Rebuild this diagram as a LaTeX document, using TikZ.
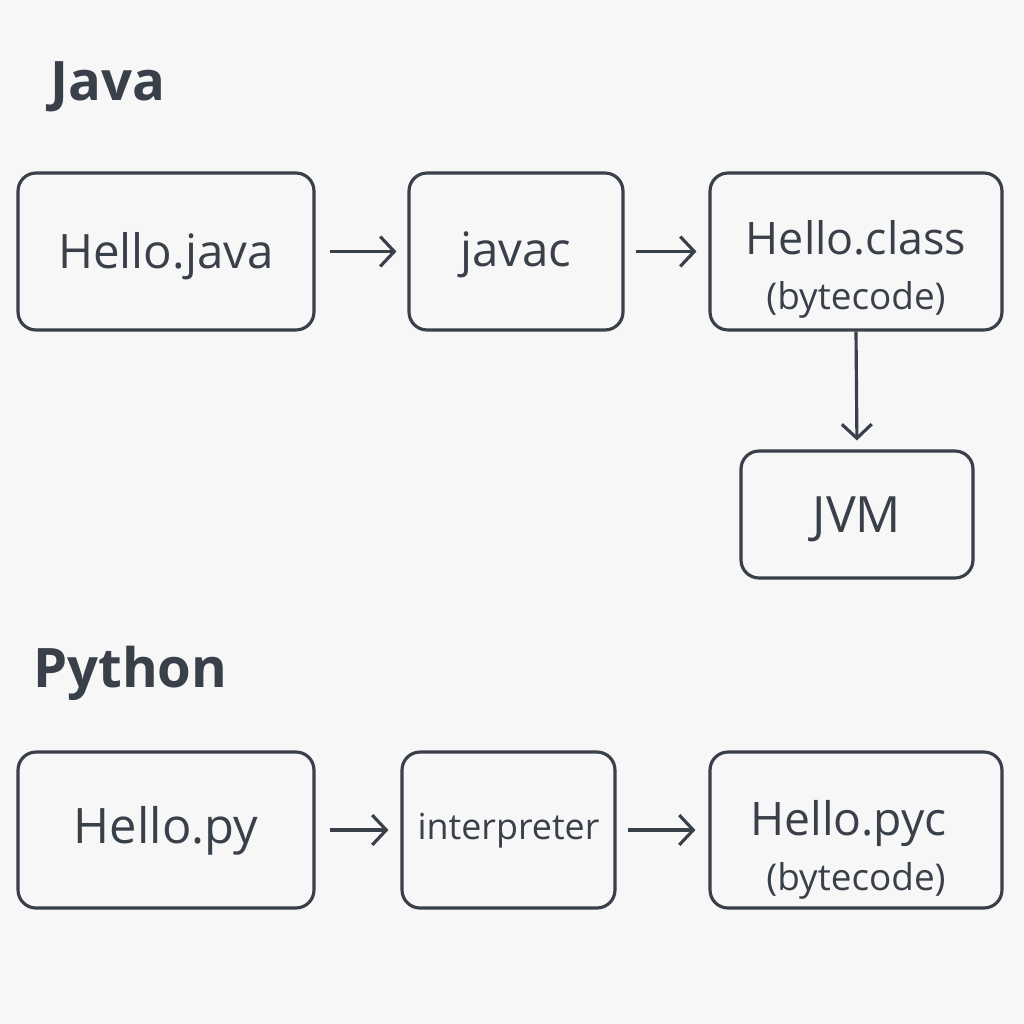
\documentclass[tikz,border=0pt]{standalone}
\usepackage{fontspec}
\setmainfont{Open Sans}
\usetikzlibrary{arrows.meta}
\definecolor{ink}{HTML}{3A4049}
\definecolor{paper}{HTML}{F7F7F7}
\tikzset{
  stage/.style={rectangle, draw=ink, line width=1.8pt, rounded corners=0.36cm, inner sep=0pt},
  stagetext/.style={text=ink, align=center, inner sep=0pt, font=\fontsize{27}{31}\selectfont},
  link/.style={draw=ink, line width=1.8pt, -{Straight Barb[length=8pt,width=17pt,line width=1.8pt]}},
  heading/.style={text=ink, anchor=base west, inner sep=0pt, font=\fontsize{31}{36}\selectfont\bfseries}
}
\newcommand{\subline}{\fontsize{21}{26}\selectfont}
\newcommand{\stagebox}[6] {\node at (#1) (#2) [stage, minimum width=#3, minimum height=#4] {};
  \node at ([yshift=#6]#2.center) (#2-text) [stagetext] {#5};}
\newcommand{\stagelink}[4] {\draw [link, shorten <=#3, shorten >=#4] (#1) -- (#2);}

\begin{document}
\begin{tikzpicture}[x=0.02cm, y=-0.02cm]
\fill [paper] (0,0) rectangle (1024,1024);
\useasboundingbox (0,0) rectangle (1024,1024);

% Java
\node at (50,101) (javatitle) [heading] {Java};
\stagebox {166,251.5}{hellojava}{5.92cm}{3.14cm}{Hello.java}{-0.1cm}
\stagebox {516,251.5}{javac}{4.28cm}{3.14cm}{javac}{-0.06cm}
\stagebox {856,251.5}{helloclass}{5.84cm}{3.14cm}{{\fontsize{25.5}{29}\selectfont Hello.class}\\{\subline (bytecode)}}{-0.36cm}
\stagebox {857,514.5}{jvm}{4.64cm}{2.54cm}{{\fontsize{28.5}{32}\selectfont JVM}}{-0.1cm}
\stagelink {hellojava}{javac}{0.28cm}{0.22cm}
\stagelink {javac}{helloclass}{0.22cm}{0.24cm}
\stagelink {helloclass.south}{jvm.north}{0cm}{0.18cm}

% Python
\node at (33,687) (pytitle) [heading] {Python};
\stagebox {166,830}{hellopy}{5.92cm}{3.12cm}{{\fontsize{27.8}{32}\selectfont Hello.py}}{-0.02cm}
\stagebox {508.5,830}{interp}{4.26cm}{3.12cm}{{\fontsize{20.4}{25}\selectfont interpreter}}{-0.02cm}
\stagebox {856,830}{hellopyc}{5.84cm}{3.12cm}{{\fontsize{26.3}{30}\selectfont Hello.pyc\hspace*{0.3cm}}\\{\subline (bytecode)}}{-0.4cm}
\stagelink {hellopy}{interp}{0.28cm}{0.24cm}
\stagelink {interp}{hellopyc}{0.22cm}{0.26cm}

\end{tikzpicture}
\end{document}
